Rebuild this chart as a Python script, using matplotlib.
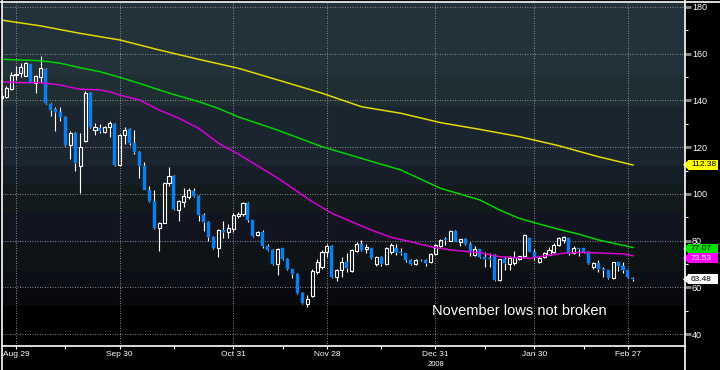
import matplotlib
matplotlib.use('Agg')
import matplotlib.pyplot as plt
import matplotlib.transforms as mtransforms
from matplotlib.patches import Rectangle, Polygon
from matplotlib.lines import Line2D
import numpy as np

# daily candles, one per trading day (Aug 24 2007 .. Feb 28 2008)
opens = [141, 141.5, 145, 150.8, 151.7, 150.6, 155.5, 147.3, 150.2, 153.5,
         138.5, 136.3, 135.2, 133, 121, 126, 112, 122.5, 143, 127.5,
         128.3, 126.6, 128.6, 130, 112.4, 125, 127.8, 121.6, 118, 112,
         101.7, 97.1, 85.3, 87.7, 104.5, 107.7, 93.1, 96.7, 98.7, 101.2,
         99, 91, 88, 81.6, 77, 84.5, 83.7, 85, 90.5, 91.3,
         96.2, 88.8, 82.3, 83.8, 77.7, 76, 70, 76.8, 72, 67.8,
         65.7, 57.6, 53, 56.3, 66.7, 68.5, 75.2, 77.7, 64.5, 67.5,
         71, 67, 75.7, 78.5, 76.5, 76.7, 70, 73.1, 70, 75,
         76.7, 75.3, 74.6, 71.5, 70, 71.9, 71.5, 70.7, 74.2, 77.5,
         80.5, 80, 84, 79.6, 80.7, 78.5, 73.8, 76.3, 72.8, 72.5,
         74, 63.2, 72, 70, 70.5, 72, 73.2, 81, 75.2, 71,
         72.9, 74, 75.3, 78.1, 80.3, 81, 74.6, 76.8, 76.7, 75.2,
         68.5, 70.2, 67.9, 67.4, 63.8, 70.7, 69.1, 67.4, 64]
highs = [143, 146, 152, 154.9, 156, 156.3, 155.8, 150.8, 159, 154,
         139, 137, 137, 133.5, 127, 126.5, 126, 144, 143.5, 130.3,
         130, 129, 131, 130.5, 125.5, 128.7, 128, 127.4, 118.5, 113.8,
         103.5, 101.7, 87.9, 105, 111.4, 108, 97.5, 102.4, 102.5, 102.5,
         99.5, 92, 88.5, 82, 85, 88.4, 87, 92, 92.2, 96.7,
         96.5, 89, 84.3, 84.5, 78.5, 76.5, 77, 77, 72.5, 68,
         66, 58, 56.7, 68, 72, 75.8, 78.5, 78, 67.8, 73,
         74.5, 76.5, 79.5, 80.2, 78.5, 77, 73.4, 73.3, 77.3, 79,
         78.5, 77, 74.8, 72, 72, 72.2, 72, 74.8, 78.6, 80.6,
         81.5, 84.5, 84.5, 80.8, 81, 79.2, 77.5, 76.6, 75, 74.5,
         74.3, 72.3, 73.5, 73.2, 75.6, 73.6, 82.8, 81.2, 76.5, 73.4,
         75, 77.1, 79, 81.5, 81.8, 81.3, 77.5, 77, 77, 75.5,
         71, 71.8, 68.8, 67.6, 71, 71, 70.8, 67.6, 64.3]
lows = [140, 141, 144.5, 148.7, 150, 150.3, 147.3, 143.3, 147.5, 138.5,
        133.5, 127, 131, 120.5, 115, 110, 100.5, 122, 128, 125,
        126, 126, 124.5, 112, 112, 121.5, 121, 117, 106.7, 101.5,
        96.5, 84.8, 75.7, 87.5, 103.4, 93, 88.5, 94.2, 98, 98.5,
        88.5, 84, 80, 76.5, 73, 81, 81, 83.5, 89.8, 90.5,
        88, 81.5, 81.8, 77, 75.5, 69.5, 65.3, 71.5, 67.5, 64,
        57, 53, 51.5, 56, 65.5, 68, 73, 64, 62.8, 64.5,
        66.5, 66.5, 75, 75.7, 74.5, 72, 69.3, 69.3, 69.5, 74.3,
        74, 74, 70.8, 69.5, 69.7, 71.2, 69, 70.5, 73.9, 76.8,
        78.3, 79.8, 79.5, 77.8, 78, 73.6, 73.5, 72.5, 68.8, 68.8,
        62.7, 62.8, 67.5, 67.4, 69.6, 71.8, 73, 75, 71.7, 70.2,
        72.5, 73.8, 74.6, 77.8, 79, 74, 74.3, 73.4, 74.6, 69.8,
        68, 66.5, 64.5, 63.5, 63.5, 67, 66, 64, 62.8]
closes = [142, 145.5, 151, 151.3, 154.3, 156, 147.5, 150.5, 153.8, 139,
          136, 135.2, 133, 121, 126, 113, 120, 143, 128.5, 128.5,
          126.8, 128.5, 130.2, 112.4, 125.2, 127.5, 121.6, 118, 112, 101.7,
          97.1, 85.3, 87.7, 104.5, 107.7, 93.4, 97.1, 99.1, 101.7, 99,
          91, 88, 81.7, 77, 84.5, 83.7, 85.4, 91, 91.5, 96.2,
          88.8, 82, 83.7, 77.7, 76, 70, 76.5, 72.1, 67.8, 65.7,
          57.6, 53.5, 55, 67, 71, 75, 77.7, 64.3, 67.5, 70.7,
          68.1, 76, 78.5, 76, 77.3, 72.7, 73, 70, 76.7, 78,
          75.2, 74.9, 71.5, 70, 71.5, 71.5, 70.6, 74.3, 78, 80.3,
          80.1, 84, 79.6, 80.6, 78.5, 75.2, 76.3, 72.8, 72.3, 72,
          63.2, 72, 70.3, 72.5, 73, 73.4, 82.5, 75.2, 72.8, 72.5,
          74.5, 76, 78, 81, 81.4, 74.6, 76.7, 76.5, 75.2, 70.2,
          70.5, 67.7, 67.5, 63.8, 70.7, 69.1, 67.4, 64.3, 63.48]

# moving averages, read at sampled days
slow_days = [0, 8, 16, 24, 32, 40, 48, 56, 65, 73, 81, 89, 97, 105, 113, 121, 128]
slow_ma = [174.4, 171.9, 168.7, 165.9, 161.6, 157.6, 153.8, 148.8, 143.1,
           137.3, 134.5, 130.5, 127.6, 124.5, 120.6, 115.9, 112.38]
mid_days = [0, 8, 12, 16, 20, 24, 28, 32, 36, 40, 44, 48, 56, 65, 73, 81,
            89, 97, 101, 105, 108, 113, 117, 121, 128]
mid_ma = [157.6, 157.0, 155.9, 154.0, 152.3, 149.9, 147.3, 144.5, 141.9,
          139.5, 136.6, 133.0, 127.3, 120.2, 115.2, 110.2, 102.4, 97.4, 93.1,
          89.5, 87.7, 84.8, 82.8, 80.3, 77.07]
fast_days = [0, 4, 8, 12, 14, 16, 20, 22, 24, 28, 32, 36, 40, 44, 48, 56, 63,
             67, 71, 75, 79, 83, 87, 91, 97, 101, 107, 110, 114, 118, 122, 126, 128]
fast_ma = [148, 147.6, 147.6, 146.6, 145.6, 144.8, 144.5, 143.7, 142.3, 140.2,
           135.9, 132.4, 128.1, 121.7, 117.1, 106.8, 96.7, 91.7, 88.1, 84.5,
           81.4, 79.5, 77.4, 76, 74.8, 73.1, 72.4, 73.4, 74.6, 75, 74.6, 74.3, 73.53]

last_values = [112.38, 77.07, 73.53, 63.48]

date_ticks = [3, 24, 47, 66, 88, 108, 127]
date_labels = ['Aug 29', 'Sep 30', 'Oct 31', 'Nov 28', 'Dec 31', 'Jan 30', 'Feb 27']
mid_month_ticks = [13, 35, 57, 77, 98, 118]
price_ticks = [40, 60, 80, 100, 120, 140, 160, 180]
price_minor = [50, 70, 90, 110, 130, 150, 170]

BLUE = '#0a80f0'
YELLOW = '#e2da00'
GREEN = '#00d400'
MAGENTA = '#d800d8'
GRID = '#9a9a9a'
FONT = 'Liberation Sans'

fig = plt.figure(figsize=(7.2, 3.7), dpi=100, facecolor='black')
ax = fig.add_axes([2 / 720, 24 / 370, 683 / 720, 343 / 370])
ax.set_facecolor('black')
ax.set_xlim(0.16, 138.56)
ax.set_ylim(34.88, 181.7)

# horizontal shading bands (axes fractions, top to bottom)
band_edges = [1.0, 0.790, 0.700, 0.525, 0.469, 0.388, 0.300, 0.219, 0.172, 0.117, 0.0]
band_colors = ['#22313a', '#1f2e33', '#1b2530', '#151d26', '#121a1c',
               '#121520', '#0e1415', '#0c0e16', '#08090c', '#000000']
for top, bot, c in zip(band_edges[:-1], band_edges[1:], band_colors):
    ax.add_patch(Rectangle((0, bot), 1, top - bot, transform=ax.transAxes,
                           facecolor=c, edgecolor='none', zorder=0))

# dotted grid
for p in price_ticks:
    ax.axhline(p, color=GRID, lw=0.75, ls=(0, (0.8, 1.6)), zorder=1)
for d in date_ticks:
    ax.axvline(d, color=GRID, lw=0.75, ls=(0, (0.8, 1.6)), zorder=1)

# candles
x = np.arange(len(closes))
o = np.array(opens)
c = np.array(closes)
h = np.array(highs)
l = np.array(lows)
top = np.maximum(o, c)
bot = np.minimum(o, c)
up = c >= o
ax.vlines(x, top, h, color='white', lw=0.8, zorder=3)
ax.vlines(x, l, bot, color='white', lw=0.8, zorder=3)
ax.bar(x[~up], (top - bot)[~up], bottom=bot[~up], width=0.62,
       color=BLUE, edgecolor=BLUE, lw=0.3, zorder=3)
ax.bar(x[up], np.maximum((top - bot)[up], 0.3), bottom=bot[up], width=0.62,
       facecolor='none', edgecolor='white', lw=0.8, zorder=3)

# moving averages
ax.plot(slow_days, slow_ma, color=YELLOW, lw=1.1, zorder=4)
ax.plot(mid_days, mid_ma, color=GREEN, lw=1.1, zorder=4)
ax.plot(fast_days, fast_ma, color=MAGENTA, lw=1.1, zorder=4)

ax.text(87.3, 50, 'November lows not broken', color='white', fontsize=10.5,
        family=FONT, ha='left', va='center', zorder=5)

# axes styling
for s in ax.spines.values():
    s.set_visible(False)
ax.yaxis.tick_right()
ax.set_yticks(price_ticks)
ax.set_yticklabels([str(p) for p in price_ticks])
ax.set_yticks(price_minor, minor=True)
ax.tick_params(axis='y', which='major', colors='#8c8c8c', length=4.5, width=2,
               pad=0.5, labelcolor='white', labelsize=6.5)
ax.tick_params(axis='y', which='minor', colors='white', length=2.5, width=0.8)
ax.set_xticks(date_ticks)
ax.set_xticklabels(date_labels)
ax.set_xticks(mid_month_ticks, minor=True)
ax.tick_params(axis='x', which='major', colors='white', length=2, width=0.8,
               pad=1.5, labelsize=6)
ax.tick_params(axis='x', which='minor', colors='white', length=2.5, width=0.8)
for lab in ax.get_xticklabels() + ax.get_yticklabels():
    lab.set_family(FONT)

# frame lines
ax.add_line(Line2D([0, 1], [0, 0], transform=ax.transAxes, color='white',
                   lw=1.2, clip_on=False, zorder=6))
fig.add_artist(Line2D([685 / 720, 685 / 720], [0, 1], color='white', lw=1.2))
fig.add_artist(Line2D([1.5 / 720, 1.5 / 720], [0, 1], color='white', lw=1.2))
fig.add_artist(Line2D([0, 1], [1 - 1.5 / 370, 1 - 1.5 / 370], color='white', lw=1.2))

fig.text(436 / 720, 1 - 364 / 370, '2008', color='white', fontsize=5.5,
         family=FONT, ha='center', va='center')

# last value tags on the price axis (nudged down a touch so texts stay clear)
trans = mtransforms.blended_transform_factory(fig.transFigure, ax.transData)
tag_styles = [('#ffff00', 'black', 0.0), ('#00e400', 'black', -0.5),
              ('#ff00ff', 'white', -1.1), ('#ffffff', 'black', 0.0)]
half = 4.8 / 2.336
for val, (bg, fg, nudge) in zip(last_values, tag_styles):
    yc = val + nudge
    fig.add_artist(Polygon([[683 / 720, yc], [688.5 / 720, yc + half],
                            [688.5 / 720, yc - half]], closed=True,
                           transform=trans, facecolor=bg, edgecolor='none'))
    fig.add_artist(Rectangle((688 / 720, yc - half), 30 / 720, 2 * half,
                             transform=trans, facecolor=bg, edgecolor='none'))
    fig.text(691 / 720, yc, f'{val:.2f}', transform=trans, color=fg,
             fontsize=6.0, family=FONT, ha='left', va='center')

fig.savefig('out.png', dpi=100, facecolor='black')
